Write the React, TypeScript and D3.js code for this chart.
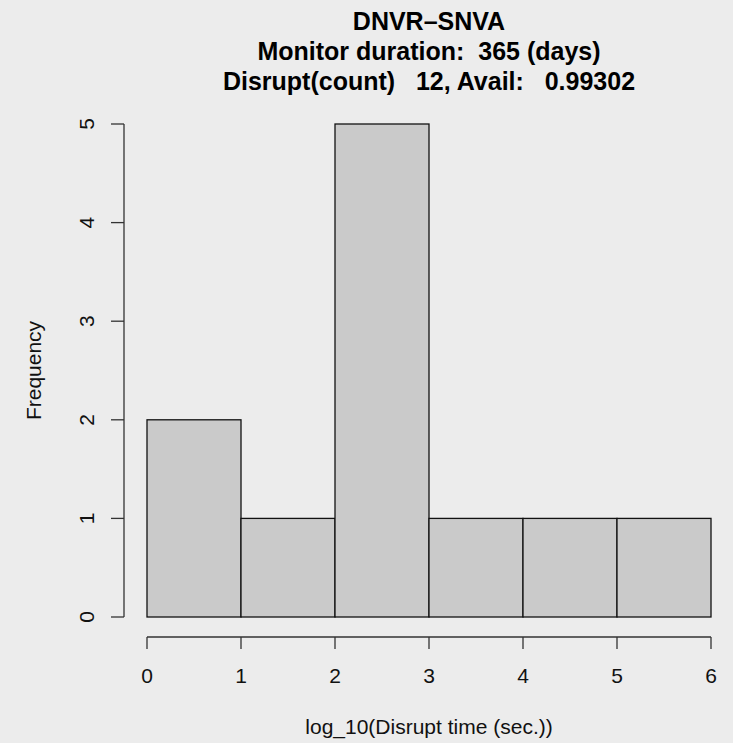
import React from "react";
import * as d3 from "d3";

// Histogram of log10 disruption times (bin edges and counts)
const binEdges = [0, 1, 2, 3, 4, 5, 6];
const counts = [2, 1, 5, 1, 1, 1];
const xTicks = [0, 1, 2, 3, 4, 5, 6];
const yTicks = [0, 1, 2, 3, 4, 5];
const titleLines = [
  "DNVR\u2013SNVA",
  "Monitor duration:  365 (days)",
  "Disrupt(count)   12, Avail:   0.99302",
];
const xTitle = "log_10(Disrupt time (sec.))";
const yTitle = "Frequency";

const W = 733;
const H = 743;
const FONT = "'Liberation Sans', Arial, Helvetica, sans-serif";

export default function App() {
  const x = d3.scaleLinear().domain([0, 6]).range([147, 711]);
  const y = d3.scaleLinear().domain([0, 5]).range([617, 124]);
  const bins = counts.map((c, i) => ({ x0: binEdges[i], x1: binEdges[i + 1], c }));
  const axisY = 637;
  const axisX = 124;
  const axisColor = "#333333";
  const fs = 21;
  const titleFs = 25;

  return (
    <svg
      width={W}
      height={H}
      style={{ position: "absolute", left: 0, top: 0, background: "#ececec" }}
      fontFamily={FONT}
    >
      <rect x={0} y={0} width={W} height={H} fill="#ececec" />
      {titleLines.map((t, i) => (
        <text
          key={i}
          x={429}
          y={29.5 + i * 30.2}
          textAnchor="middle"
          fontWeight="bold"
          fontSize={titleFs}
          fill="#000"
          style={{ whiteSpace: "pre" }}
        >
          {t}
        </text>
      ))}
      {bins.map((b, i) => (
        <rect
          key={i}
          x={x(b.x0)}
          y={y(b.c)}
          width={x(b.x1) - x(b.x0)}
          height={y(0) - y(b.c)}
          fill="#cacaca"
          stroke="#111"
          strokeWidth={1.3}
        />
      ))}
      {/* x axis */}
      <line x1={x(0)} x2={x(6)} y1={axisY} y2={axisY} stroke={axisColor} strokeWidth={1.3} />
      {xTicks.map((t) => (
        <g key={t}>
          <line x1={x(t)} x2={x(t)} y1={axisY} y2={axisY + 12} stroke={axisColor} strokeWidth={1.3} />
          <text x={x(t)} y={683} textAnchor="middle" fontSize={fs} fill="#111">
            {t}
          </text>
        </g>
      ))}
      <text x={429} y={734} textAnchor="middle" fontSize={fs} fill="#111">
        {xTitle}
      </text>
      {/* y axis */}
      <line x1={axisX} x2={axisX} y1={y(0)} y2={y(5)} stroke={axisColor} strokeWidth={1.3} />
      {yTicks.map((t) => (
        <g key={t}>
          <line x1={axisX - 13} x2={axisX} y1={y(t)} y2={y(t)} stroke={axisColor} strokeWidth={1.3} />
          <text
            transform={`translate(94, ${y(t)}) rotate(-90)`}
            textAnchor="middle"
            fontSize={fs}
            fill="#111"
          >
            {t}
          </text>
        </g>
      ))}
      <text
        transform={`translate(41, ${(y(0) + y(5)) / 2}) rotate(-90)`}
        textAnchor="middle"
        fontSize={fs}
        fill="#111"
      >
        {yTitle}
      </text>
    </svg>
  );
}
